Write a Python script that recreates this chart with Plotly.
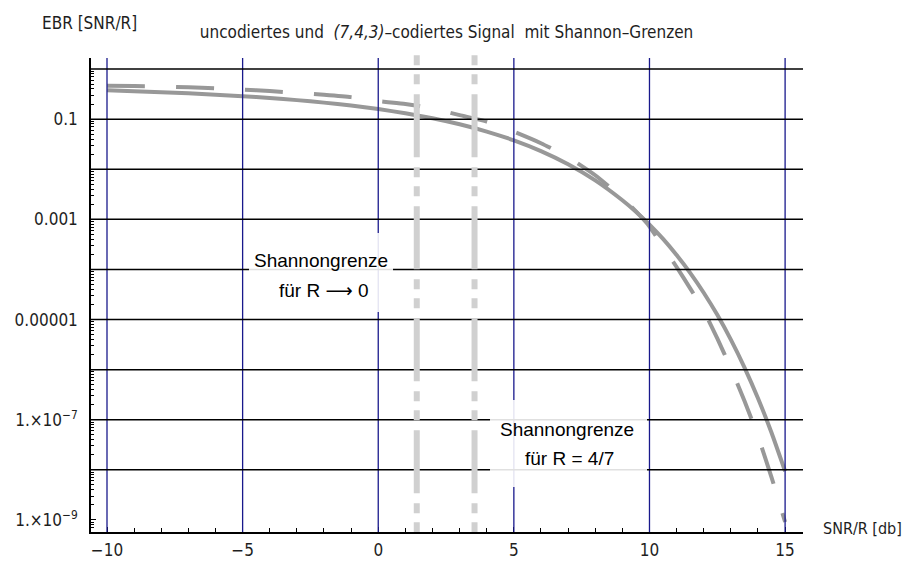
import plotly.graph_objects as go

# ---------------- data ----------------
snr_db = [-10, -9, -8, -7, -6, -5, -4, -3, -2, -1, 0, 1, 2, 3, 4, 5, 6, 7, 8, 9,
          9.5, 10, 10.5, 11, 11.5, 12, 12.5, 13, 13.5, 14, 14.5, 15]

ber_uncoded = [0.376, 0.361, 0.345, 0.328, 0.308, 0.287, 0.264, 0.2395, 0.2135, 0.1864,
               0.1587, 0.1309, 0.104, 0.0789, 0.0565, 0.0377, 0.0230, 0.01258, 0.0060, 0.00241,
               1.42e-3, 7.83e-4, 4.07e-4, 1.94e-4, 8.56e-5, 3.43e-5, 1.24e-5, 3.97e-6,
               1.115e-6, 2.69e-7, 5.52e-8, 9.4e-9]

ber_coded = [0.464, 0.457, 0.447, 0.431, 0.412, 0.389, 0.363, 0.335, 0.306, 0.275,
             0.229, 0.200, 0.164, 0.120, 0.0891, 0.0562, 0.0331, 0.0174, 0.00759, 0.00269,
             1.45e-3, 7.2e-4, 2.8e-4, 1.12e-4, 4.2e-5, 1.5e-5, 4.2e-6, 1.07e-6,
             2.4e-7, 4.7e-8, 7.1e-9, 9.1e-10]

shannon_limits = [1.42, 3.55]

x_tick_vals = [-10, -5, 0, 5, 10, 15]
x_tick_text = ["\u221210", "\u22125", "0", "5", "10", "15"]

y_tick_vals = [1e-1, 1e-3, 1e-5, 1e-7, 1e-9]
y_tick_text = ["0.1", "0.001", "0.00001", "1.\u00d710<sup>\u22127</sup>", "1.\u00d710<sup>\u22129</sup>"]

y_grid_decades = [1, 1e-1, 1e-2, 1e-3, 1e-4, 1e-5, 1e-6, 1e-7, 1e-8]

title_text = "uncodiertes und  <i>(7,4,3)</i>\u2013codiertes Signal  mit Shannon\u2013Grenzen"
y_label = "EBR [SNR/R]"
x_label = "SNR/R [db]"
box1_lines = ["Shannongrenze", "f\u00fcr R \u27f6 0"]
box2_lines = ["Shannongrenze", "f\u00fcr R = 4/7"]

# ---------------- styling ----------------
NARROW = "DejaVu Sans Condensed, Liberation Sans Narrow, sans-serif"
ARIAL = "Liberation Sans, Arial, DejaVu Sans, sans-serif"
CURVE = "rgb(152,152,152)"
TXT = "#1e1e1e"

fig = go.Figure()
fig.add_trace(go.Scatter(x=snr_db, y=ber_uncoded, mode="lines",
                         line=dict(color=CURVE, width=4, shape="spline", smoothing=0.5),
                         hoverinfo="skip"))
fig.add_trace(go.Scatter(x=snr_db, y=ber_coded, mode="lines",
                         line=dict(color=CURVE, width=4, dash="38px,31px",
                                   shape="spline", smoothing=0.5),
                         hoverinfo="skip"))

shapes = []
for v in x_tick_vals:
    shapes.append(dict(type="line", xref="x", yref="y domain", x0=v, x1=v, y0=0, y1=1,
                       line=dict(color="rgb(25,25,140)", width=1.3), layer="above"))
for d in y_grid_decades:
    shapes.append(dict(type="line", xref="x domain", yref="y", x0=0, x1=1, y0=d, y1=d,
                       line=dict(color="black", width=1.5), layer="above"))
for s in shannon_limits:
    shapes.append(dict(type="line", xref="x", yref="y domain", x0=s, x1=s, y0=1.006, y1=0,
                       line=dict(color="rgb(208,208,208)", width=6,
                                 dash="10px,9px,10px,10px,63px,10px"),
                       layer="above"))
# white text boxes
shapes.append(dict(type="rect", xref="paper", yref="paper", x0=0.2219, x1=0.4242,
                   y0=0.4641, y1=0.6308, fillcolor="rgba(255,255,255,0.88)",
                   line=dict(width=0), layer="above"))
shapes.append(dict(type="rect", xref="paper", yref="paper", x0=0.5604, x1=0.7809,
                   y0=0.0949, y1=0.2785, fillcolor="rgba(255,255,255,0.88)",
                   line=dict(width=0), layer="above"))

annotations = [
    dict(text=y_label, xref="paper", yref="paper", x=-0.0716, y=1.074,
         xanchor="left", yanchor="middle", showarrow=False,
         font=dict(family=NARROW, size=17, color=TXT)),
    dict(text=x_label, xref="paper", yref="paper", x=1.025, y=0.008,
         xanchor="left", yanchor="middle", showarrow=False,
         font=dict(family=NARROW, size=16, color=TXT)),
    dict(text=box1_lines[0], xref="paper", yref="paper", x=0.323, y=0.5738,
         xanchor="center", yanchor="middle", showarrow=False,
         font=dict(family=ARIAL, size=19, color="black")),
    dict(text=box1_lines[1], xref="paper", yref="paper", x=0.3272, y=0.5095,
         xanchor="center", yanchor="middle", showarrow=False,
         font=dict(family=ARIAL, size=19, color="black")),
    dict(text=box2_lines[0], xref="paper", yref="paper", x=0.6692, y=0.2152,
         xanchor="center", yanchor="middle", showarrow=False,
         font=dict(family=ARIAL, size=19, color="black")),
    dict(text=box2_lines[1], xref="paper", yref="paper", x=0.6720, y=0.1551,
         xanchor="center", yanchor="middle", showarrow=False,
         font=dict(family=ARIAL, size=19, color="black")),
]

minor_y = [m * 10.0 ** e for e in range(-10, 1) for m in range(2, 10)]

fig.update_layout(
    width=907, height=555,
    margin=dict(l=83, r=112, t=50, b=31, autoexpand=False),
    paper_bgcolor="white", plot_bgcolor="white",
    showlegend=False,
    title=dict(text=title_text, x=0.4835, xanchor="center", y=0.9568, yanchor="middle",
               font=dict(family=NARROW, size=17, color=TXT)),
    shapes=shapes,
    annotations=annotations,
    xaxis=dict(range=[-10.59, 15.66], showgrid=False, zeroline=False, automargin=False,
               showline=True, linecolor="black", linewidth=1.5,
               ticks="inside", ticklen=5, tickcolor="black", tickwidth=1.2,
               tickmode="array", tickvals=x_tick_vals, ticktext=x_tick_text,
               tickfont=dict(family=NARROW, size=17, color=TXT),
               ticklabelstandoff=2,
               minor=dict(ticks="inside", ticklen=4, tickcolor="black", tickwidth=1.2,
                          dtick=1, tick0=0, showgrid=False)),
    yaxis=dict(type="log", range=[-9.24, 0.22], showgrid=False, zeroline=False,
               automargin=False,
               showline=True, linecolor="black", linewidth=1.5,
               ticks="inside", ticklen=5, tickcolor="black", tickwidth=1.2,
               tickmode="array", tickvals=y_tick_vals, ticktext=y_tick_text,
               tickfont=dict(family=NARROW, size=17, color=TXT),
               ticklabelstandoff=8,
               minor=dict(ticks="inside", ticklen=3, tickcolor="black", tickwidth=1,
                          tickmode="array", tickvals=minor_y, showgrid=False)),
)

fig.write_html("out.html")
